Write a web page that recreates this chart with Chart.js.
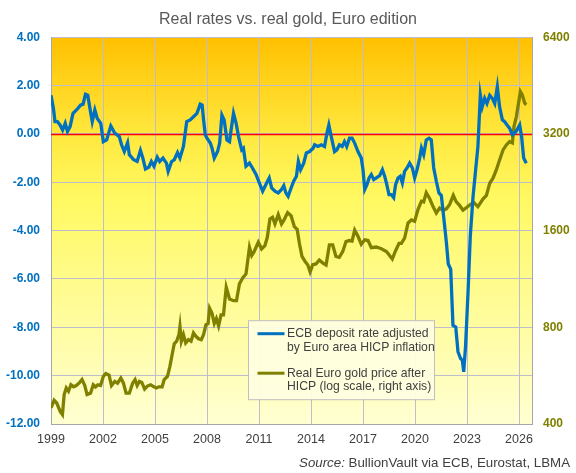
<!DOCTYPE html>
<html>
<head>
<meta charset="utf-8">
<title>Real rates vs. real gold, Euro edition</title>
<script src="https://cdn.jsdelivr.net/npm/chart.js@4.4.1/dist/chart.umd.min.js"></script>
<style>
  html, body { margin: 0; padding: 0; background: #ffffff; }
  #wrap { width: 576px; height: 473px; position: relative; }
</style>
</head>
<body>
<div id="wrap"><canvas id="chart"></canvas></div>
<script>
// ECB deposit rate minus HICP inflation (% , left axis)
const rateDates = [
  1999.00, 1999.14, 1999.23, 1999.37, 1999.52, 1999.67, 1999.82, 1999.95, 2000.10, 2000.27,
  2000.50, 2000.70, 2000.85, 2000.99, 2001.12, 2001.28, 2001.38, 2001.53, 2001.67, 2001.87,
  2002.02, 2002.21, 2002.45, 2002.68, 2002.94, 2003.07, 2003.23, 2003.42, 2003.52, 2003.77,
  2003.97, 2004.16, 2004.30, 2004.45, 2004.65, 2004.79, 2004.94, 2005.13, 2005.27, 2005.46,
  2005.66, 2005.76, 2005.96, 2006.11, 2006.30, 2006.44, 2006.64, 2006.83, 2007.03, 2007.22,
  2007.42, 2007.61, 2007.72, 2007.80, 2007.90, 2008.00, 2008.19, 2008.29, 2008.42, 2008.61,
  2008.73, 2008.86, 2008.99, 2009.15, 2009.30, 2009.39, 2009.53, 2009.68, 2009.82, 2010.00,
  2010.10, 2010.25, 2010.45, 2010.62, 2010.83, 2011.02, 2011.21, 2011.44, 2011.59, 2011.73,
  2011.92, 2012.11, 2012.30, 2012.43, 2012.55, 2012.68, 2012.82, 2013.00, 2013.16, 2013.27,
  2013.40, 2013.58, 2013.73, 2013.92, 2014.12, 2014.21, 2014.40, 2014.59, 2014.78, 2014.92,
  2015.03, 2015.17, 2015.36, 2015.49, 2015.64, 2015.80, 2015.93, 2016.06, 2016.22, 2016.37,
  2016.52, 2016.71, 2016.90, 2017.00, 2017.10, 2017.23, 2017.35, 2017.48, 2017.62, 2017.77,
  2017.96, 2018.12, 2018.25, 2018.35, 2018.50, 2018.63, 2018.77, 2018.88, 2019.02, 2019.15,
  2019.27, 2019.40, 2019.54, 2019.69, 2019.85, 2019.98, 2020.12, 2020.27, 2020.37, 2020.50,
  2020.65, 2020.81, 2020.94, 2021.08, 2021.23, 2021.38, 2021.52, 2021.65, 2021.81, 2021.92,
  2022.06, 2022.19, 2022.35, 2022.48, 2022.63, 2022.73, 2022.81, 2022.92, 2023.06, 2023.19,
  2023.35, 2023.50, 2023.63, 2023.77, 2023.88, 2024.02, 2024.15, 2024.31, 2024.46, 2024.60,
  2024.75, 2024.88, 2025.04, 2025.17, 2025.31, 2025.46, 2025.62, 2025.75, 2025.88, 2026.04,
  2026.15, 2026.27, 2026.42
];
const rateValues = [
   1.60,  1.05,  0.51,  0.51,  0.37,  0.16,  0.44,  0.10,  0.30,  0.85,
   1.01,  1.19,  1.23,  1.64,  1.60,  0.92,  0.51,  0.99,  0.64,  0.44,
  -0.32, -0.25,  0.33,  0.03, -0.11, -0.45, -0.73, -0.36, -0.86, -1.07,
  -1.14, -0.68, -1.00, -1.45, -1.37, -1.14, -1.34, -0.96, -1.14, -1.00,
  -1.21, -1.55, -1.14, -1.07, -0.77, -1.00, -0.52,  0.51,  0.58,  0.71,
   0.85,  1.23,  1.19,  0.60, -0.04, -0.18, -0.38, -0.59, -1.00, -0.73,
  -0.38,  0.78,  0.58, -0.25, -0.32,  0.16,  0.85,  0.44, -0.11, -0.66,
  -0.59, -1.34, -1.21, -1.41, -1.68, -2.03, -2.37, -2.03, -1.82, -2.23,
  -2.37, -2.44, -2.30, -2.14, -2.44, -2.58, -2.30, -1.96, -1.75, -1.14,
  -1.48, -1.21, -0.79, -0.73, -0.59, -0.45, -0.52, -0.45, -0.52,  0.03,
   0.37, -0.11, -0.73, -0.66, -0.45, -0.52, -0.32, -0.52, -0.18, -0.18,
  -0.38, -0.73, -1.00, -1.48, -2.30, -2.10, -1.82, -1.68, -1.89, -1.82,
  -1.73, -1.48, -1.75, -2.03, -2.51, -2.51, -2.64, -2.10, -1.82, -1.75,
  -2.03, -1.55, -1.41, -1.21, -1.41, -1.82, -1.48, -1.00, -0.59, -0.86,
  -0.25, -0.18, -0.25, -1.41, -1.96, -2.44, -2.55, -3.40, -4.49, -5.38,
  -5.59, -7.92, -7.99, -9.01, -9.29, -9.36, -9.84, -8.74, -6.55, -4.22,
  -2.58, -1.48, -0.52,  1.60,  1.12,  1.47,  1.26,  1.60,  1.47,  1.26,
   1.95,  1.12,  0.58,  0.51,  0.37,  0.23, -0.04,  0.03,  0.16,  0.37,
  -0.11, -1.00, -1.21
];

// Real Euro gold price after HICP (log scale, right axis)
const goldDates = [
  1999.00, 1999.18, 1999.33, 1999.53, 1999.66, 1999.76, 1999.88, 2000.01, 2000.15, 2000.30,
  2000.46, 2000.66, 2000.79, 2000.95, 2001.08, 2001.28, 2001.44, 2001.57, 2001.70, 2001.86,
  2002.02, 2002.16, 2002.35, 2002.49, 2002.68, 2002.84, 2003.03, 2003.18, 2003.33, 2003.52,
  2003.71, 2003.85, 2003.97, 2004.10, 2004.24, 2004.40, 2004.56, 2004.75, 2004.94, 2005.08,
  2005.22, 2005.41, 2005.53, 2005.72, 2005.86, 2005.99, 2006.11, 2006.25, 2006.38, 2006.44,
  2006.52, 2006.64, 2006.77, 2006.93, 2007.08, 2007.22, 2007.36, 2007.51, 2007.67, 2007.80,
  2007.94, 2008.06, 2008.15, 2008.29, 2008.42, 2008.54, 2008.67, 2008.81, 2008.95, 2009.11,
  2009.30, 2009.53, 2009.70, 2009.87, 2010.06, 2010.25, 2010.45, 2010.58, 2010.71, 2010.96,
  2011.15, 2011.34, 2011.48, 2011.63, 2011.78, 2011.92, 2012.11, 2012.30, 2012.43, 2012.65,
  2012.85, 2013.04, 2013.20, 2013.33, 2013.48, 2013.67, 2013.81, 2013.95, 2014.10, 2014.29,
  2014.48, 2014.67, 2014.87, 2015.06, 2015.25, 2015.44, 2015.63, 2015.83, 2016.02, 2016.21,
  2016.37, 2016.52, 2016.71, 2016.90, 2017.10, 2017.29, 2017.48, 2017.77, 2018.06, 2018.35,
  2018.50, 2018.69, 2018.88, 2019.08, 2019.21, 2019.40, 2019.60, 2019.79, 2019.98, 2020.17,
  2020.37, 2020.50, 2020.65, 2020.85, 2021.04, 2021.23, 2021.42, 2021.62, 2021.81, 2022.00,
  2022.21, 2022.37, 2022.56, 2022.77, 2022.96, 2023.15, 2023.38, 2023.63, 2023.92, 2024.12,
  2024.31, 2024.50, 2024.69, 2024.88, 2025.08, 2025.27, 2025.46, 2025.62, 2025.71, 2025.85,
  2025.94, 2026.08, 2026.19, 2026.33, 2026.42
];
const goldValues = [
   449,  474,  465,  438,  428,  494,  518,  506,  530,  522,
   527,  539,  550,  527,  494,  499,  530,  522,  530,  527,
   563,  574,  568,  527,  543,  536,  556,  536,  499,  499,
   536,  550,  527,  543,  539,  514,  525,  530,  522,  518,
   522,  522,  550,  563,  605,  658,  711,  724,  759,  805,
   724,  759,  715,  732,  724,  768,  750,  737,  732,  759,
   815,  821,  917,  884,  823,  852,  808,  874,  874, 1066,
   980,  968,  968, 1092, 1139, 1173, 1419, 1338, 1373, 1472,
  1403, 1437, 1525, 1739, 1760, 1678, 1795, 1678, 1720, 1820,
  1780, 1646, 1615, 1461, 1329, 1280, 1253, 1190, 1253, 1260,
  1296, 1270, 1250, 1444, 1444, 1329, 1320, 1376, 1479, 1490,
  1484, 1605, 1536, 1450, 1498, 1490, 1415, 1422, 1405, 1377,
  1346, 1305, 1385, 1460, 1460, 1515, 1690, 1727, 1710, 1860,
  1975, 1965, 2100, 2010, 1900, 1815, 1880, 1850, 1870, 1930,
  2060, 1970, 1920, 1852, 1885, 1922, 1960, 1900, 2005, 2060,
  2247, 2329, 2471, 2656, 2854, 2957, 3030, 3000, 3374, 3623,
  3891, 4333, 4233, 3988, 3945
];

const yearTicks = [1999, 2002, 2005, 2008, 2011, 2014, 2017, 2020, 2023, 2026];
const goldTicks = [400, 800, 1600, 3200, 6400];

const FONT = "'Liberation Sans', Arial, Helvetica, sans-serif";
const GRID = '#BDBDCD';
const TEXT = '#404040';

const legendItems = [
  { color: '#0070C0', lines: ['ECB deposit rate adjusted', 'by Euro area HICP inflation'] },
  { color: '#808000', lines: ['Real Euro gold price after', 'HICP (log scale, right axis)'] }
];

// gradient plot background, red zero line, boxed legend and source line
const paperPlugin = {
  id: 'paper',
  beforeDraw(chart) {
    const { ctx, chartArea: a } = chart;
    const g = ctx.createLinearGradient(0, a.top, 0, a.bottom);
    g.addColorStop(0, '#FFC000');
    g.addColorStop(0.25, '#FFE83E');
    g.addColorStop(0.42, '#FFF962');
    g.addColorStop(1, '#FFFFD2');
    ctx.save();
    ctx.fillStyle = g;
    ctx.fillRect(a.left, a.top, a.width, a.height);
    ctx.restore();
  },
  beforeDatasetsDraw(chart) {
    const { ctx, chartArea: a } = chart;
    const y0 = Math.round(chart.scales.y.getPixelForValue(0)) + 0.5;
    ctx.save();
    ctx.strokeStyle = '#FF0000';
    ctx.lineWidth = 1.5;
    ctx.beginPath();
    ctx.moveTo(a.left, y0);
    ctx.lineTo(a.right, y0);
    ctx.stroke();
    ctx.restore();
  },
  afterDraw(chart) {
    const { ctx, chartArea: a } = chart;
    ctx.save();

    /* ---------- LEGEND ---------- */
    const bx = a.left + 197.5, by = a.top + 283.5, bw = 186, bh = 79;
    ctx.fillStyle = 'rgba(255,255,224,0.94)';
    ctx.fillRect(bx, by, bw, bh);
    ctx.strokeStyle = '#BFBFBF';
    ctx.lineWidth = 1;
    ctx.strokeRect(bx, by, bw, bh);

    ctx.font = '12.2px ' + FONT;
    ctx.fillStyle = TEXT;
    ctx.textBaseline = 'middle';
    ctx.textAlign = 'left';
    legendItems.forEach((item, i) => {
      const y0 = by + 13 + i * 39.5;
      ctx.strokeStyle = item.color;
      ctx.lineWidth = 3;
      ctx.beginPath();
      ctx.moveTo(bx + 9, y0);
      ctx.lineTo(bx + 36, y0);
      ctx.stroke();
      item.lines.forEach((t, j) => {
        ctx.fillText(t, bx + 38.5, y0 + j * 13.7);
      });
    });

    /* ---------- SOURCE ---------- */
    ctx.font = '13.3px ' + FONT;
    const rest = ' BullionVault via ECB, Eurostat, LBMA';
    const restW = ctx.measureText(rest).width;
    ctx.font = 'italic 13.3px ' + FONT;
    const srcW = ctx.measureText('Source:').width;
    const right = 570, base = 467;
    ctx.textBaseline = 'alphabetic';
    ctx.fillStyle = TEXT;
    ctx.fillText('Source:', right - restW - srcW, base);
    ctx.font = '13.3px ' + FONT;
    ctx.fillText(rest, right - restW, base);

    ctx.restore();
  }
};

new Chart(document.getElementById('chart'), {
  type: 'line',
  data: {
    datasets: [{
      label: 'ECB deposit rate adjusted by Euro area HICP inflation',
      data: rateDates.map((d, i) => ({ x: d, y: rateValues[i] })),
      borderColor: '#0070C0',
      borderWidth: 3.3,
      pointRadius: 0,
      tension: 0,
      yAxisID: 'y'
    }, {
      label: 'Real Euro gold price after HICP (log scale, right axis)',
      data: goldDates.map((d, i) => ({ x: d, y: goldValues[i] })),
      borderColor: '#808000',
      borderWidth: 3.3,
      pointRadius: 0,
      tension: 0,
      yAxisID: 'y1'
    }]
  },
  options: {
    responsive: true,
    maintainAspectRatio: false,
    animation: false,
    layout: { padding: 0 },
    plugins: {
      legend: { display: false },
      tooltip: { enabled: false },
      title: {
        display: true,
        text: 'Real rates vs. real gold, Euro edition',
        color: '#595959',
        font: { family: FONT, size: 16, weight: 'normal' },
        padding: { top: 10, bottom: 8 }
      }
    },
    scales: {
      x: {
        type: 'linear',
        min: 1999,
        max: 2026.75,
        afterBuildTicks: s => { s.ticks = yearTicks.map(v => ({ value: v })); },
        afterFit: s => { s.height = 49; },
        ticks: {
          color: TEXT,
          font: { family: FONT, size: 12.5 },
          padding: 8,
          autoSkip: false,
          maxRotation: 0,
          callback: v => String(v)
        },
        grid: { color: GRID, drawTicks: false },
        border: { color: '#A6A6A6' }
      },
      y: {
        type: 'linear',
        position: 'left',
        min: -12,
        max: 4,
        afterFit: s => { s.width = 51; },
        ticks: {
          stepSize: 2,
          color: '#0070C0',
          font: { family: FONT, size: 12, weight: 'bold' },
          padding: 11,
          callback: v => v.toFixed(2)
        },
        grid: { drawTicks: false, color: GRID, lineWidth: 1 },
        border: { color: '#A6A6A6' }
      },
      y1: {
        type: 'logarithmic',
        position: 'right',
        min: 400,
        max: 6400,
        afterBuildTicks: s => { s.ticks = goldTicks.map(v => ({ value: v })); },
        afterFit: s => { s.width = 44; },
        ticks: {
          color: '#808000',
          font: { family: FONT, size: 12, weight: 'bold' },
          padding: 11,
          callback: v => String(v)
        },
        grid: { drawOnChartArea: false, drawTicks: false },
        border: { color: '#A6A6A6' }
      }
    }
  },
  plugins: [paperPlugin]
});
</script>
</body>
</html>
